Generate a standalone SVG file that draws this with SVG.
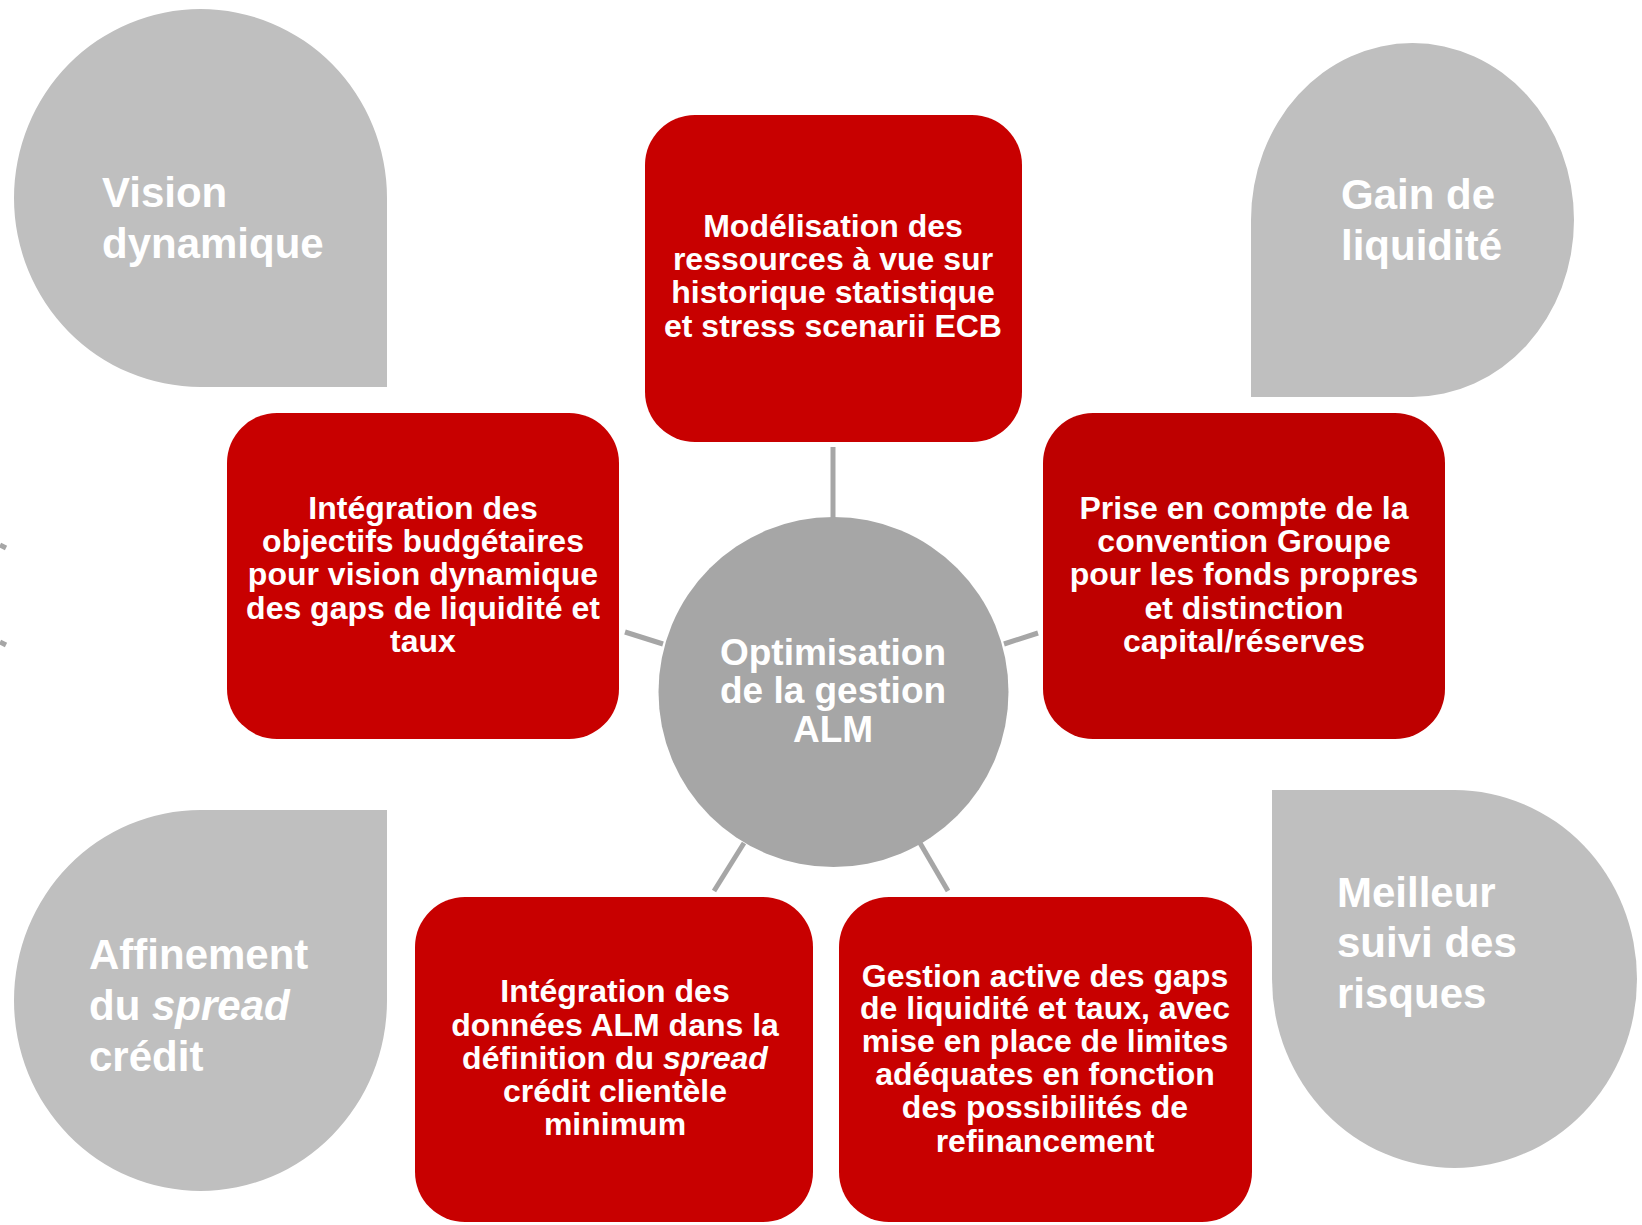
<svg xmlns="http://www.w3.org/2000/svg" width="1642" height="1225" viewBox="0 0 1642 1225">
<style>
.blob{fill:#BFBFBF}
.box{fill:#C80000}
.hub{fill:#A6A6A6}
.conn{stroke:#A6A6A6;stroke-width:5;fill:none}
.t{font-family:"Liberation Sans",Arial,sans-serif;font-weight:bold;fill:#FFFFFF}
.big{font-size:42px}
.mid{font-size:37px;text-anchor:middle}
.sm{font-size:32px;text-anchor:middle}
</style>
<rect width="1642" height="1225" fill="#FFFFFF"/>
<g id="connectors">
<line class="conn" x1="833" y1="447" x2="833" y2="519" stroke-width="6"/>
<line class="conn" x1="625" y1="632" x2="663" y2="644"/>
<line class="conn" x1="1004" y1="644" x2="1038" y2="633"/>
<line class="conn" x1="744" y1="843" x2="714" y2="891"/>
<line class="conn" x1="920" y1="843" x2="948" y2="891"/>
<line class="conn" x1="0" y1="545" x2="6" y2="548"/>
<line class="conn" x1="0" y1="642" x2="6" y2="645"/>
</g>
<g id="blob-vision">
<path class="blob" d="M387 387 L200.5 387 A186.5 189 0 0 1 14 198 A186.5 189 0 0 1 200.5 9 A186.5 189 0 0 1 387 198 Z"/>
<text class="t big" x="102" y="207">Vision</text>
<text class="t big" x="102" y="258">dynamique</text>
</g>
<g id="blob-gain">
<path class="blob" d="M1251 397 L1251 220 A161.5 177 0 0 1 1412.5 43 A161.5 177 0 0 1 1574 220 A161.5 177 0 0 1 1412.5 397 Z"/>
<text class="t big" x="1341" y="209">Gain de</text>
<text class="t big" x="1341" y="260">liquidité</text>
</g>
<g id="blob-affinement">
<path class="blob" d="M387 810 L387 1000.5 A186.5 190.5 0 0 1 200.5 1191 A186.5 190.5 0 0 1 14 1000.5 A186.5 190.5 0 0 1 200.5 810 Z"/>
<text class="t big" x="89" y="969">Affinement</text>
<text class="t big" x="89" y="1020">du <tspan font-style="italic">spread</tspan></text>
<text class="t big" x="89" y="1071">crédit</text>
</g>
<g id="blob-meilleur">
<path class="blob" d="M1272 790 L1454.5 790 A182.5 189 0 0 1 1637 979 A182.5 189 0 0 1 1454.5 1168 A182.5 189 0 0 1 1272 979 Z"/>
<text class="t big" x="1337" y="907">Meilleur</text>
<text class="t big" x="1337" y="957">suivi des</text>
<text class="t big" x="1337" y="1008">risques</text>
</g>
<g id="box-top">
<rect class="box" x="645" y="115" width="377" height="327" rx="50" ry="50"/>
<text class="t sm" x="833" y="237">Modélisation des</text>
<text class="t sm" x="833" y="270">ressources à vue sur</text>
<text class="t sm" x="833" y="303">historique statistique</text>
<text class="t sm" x="833" y="337">et stress scenarii ECB</text>
</g>
<g id="box-left">
<rect class="box" x="227" y="413" width="392" height="326" rx="50" ry="50"/>
<text class="t sm" x="423" y="519">Intégration des</text>
<text class="t sm" x="423" y="552">objectifs budgétaires</text>
<text class="t sm" x="423" y="585">pour vision dynamique</text>
<text class="t sm" x="423" y="619">des gaps de liquidité et</text>
<text class="t sm" x="423" y="652">taux</text>
</g>
<g id="box-right">
<rect class="box" x="1043" y="413" width="402" height="326" rx="50" ry="50" style="fill:#BE0000"/>
<text class="t sm" x="1244" y="519">Prise en compte de la</text>
<text class="t sm" x="1244" y="552">convention Groupe</text>
<text class="t sm" x="1244" y="585">pour les fonds propres</text>
<text class="t sm" x="1244" y="619">et distinction</text>
<text class="t sm" x="1244" y="652">capital/réserves</text>
</g>
<g id="box-bottom-left">
<rect class="box" x="415" y="897" width="398" height="325" rx="50" ry="50"/>
<text class="t sm" x="615" y="1002">Intégration des</text>
<text class="t sm" x="615" y="1036">données ALM dans la</text>
<text class="t sm" x="615" y="1069">définition du <tspan font-style="italic">spread</tspan></text>
<text class="t sm" x="615" y="1102">crédit clientèle</text>
<text class="t sm" x="615" y="1135">minimum</text>
</g>
<g id="box-bottom-right">
<rect class="box" x="839" y="897" width="413" height="325" rx="50" ry="50"/>
<text class="t sm" x="1045" y="987">Gestion active des gaps</text>
<text class="t sm" x="1045" y="1019">de liquidité et taux, avec</text>
<text class="t sm" x="1045" y="1052">mise en place de limites</text>
<text class="t sm" x="1045" y="1085">adéquates en fonction</text>
<text class="t sm" x="1045" y="1118">des possibilités de</text>
<text class="t sm" x="1045" y="1152">refinancement</text>
</g>
<g id="hub">
<circle class="hub" cx="833.5" cy="692" r="175"/>
<text class="t mid" x="833" y="665">Optimisation</text>
<text class="t mid" x="833" y="703">de la gestion</text>
<text class="t mid" x="833" y="742">ALM</text>
</g>
</svg>
